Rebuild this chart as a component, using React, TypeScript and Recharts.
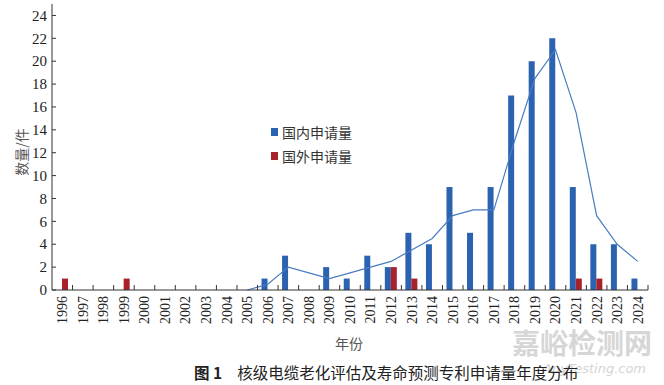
import * as React from 'react'
import { Bar, ComposedChart, Line, XAxis, YAxis } from 'recharts'

const years = [
    '1996', '1997', '1998', '1999', '2000', '2001', '2002', '2003', '2004', '2005',
    '2006', '2007', '2008', '2009', '2010', '2011', '2012', '2013', '2014', '2015',
    '2016', '2017', '2018', '2019', '2020', '2021', '2022', '2023', '2024',
]
const domestic = [
    0, 0, 0, 0, 0, 0, 0, 0, 0, 0,
    1, 3, 0, 2, 1, 3, 2, 5, 4, 9,
    5, 9, 17, 20, 22, 9, 4, 4, 1,
]
const foreign = [
    1, 0, 0, 1, 0, 0, 0, 0, 0, 0,
    0, 0, 0, 0, 0, 0, 2, 1, 0, 0,
    0, 0, 0, 0, 0, 1, 1, 0, 0,
]
// trend line
const trend = [
    null, null, null, null, null, null, null, null, null, 0,
    0.5, 2, 1.5, 1, 1.5, 2, 2.5, 3.5, 4.5, 6.5,
    7, 7, 13, 18.5, 21, 15.5, 6.5, 4, 2.5,
]
const yTicks = [0, 2, 4, 6, 8, 10, 12, 14, 16, 18, 20, 22, 24]

const BLUE = '#2b63b1'
const RED = '#a6232c'
const LINE = '#4a7cc0'
const SERIF = '"Liberation Serif", "DejaVu Serif", serif'
const CJK = '"Noto Sans CJK SC", sans-serif'

const LEFT = 52
const BOTTOM = 290
const BAND = 596 / 29

function XTick({ x, payload }: any) {
    return (
        <g>
            <line x1={x + BAND / 2} x2={x + BAND / 2} y1={BOTTOM} y2={BOTTOM - 5} stroke="#333" strokeWidth={1} />
            <text
                x={x}
                y={BOTTOM + 6}
                transform={`rotate(-90, ${x}, ${BOTTOM + 6})`}
                textAnchor="end"
                dy="0.35em"
                fontSize={14}
                fontFamily={SERIF}
                fill="#222"
            >
                {payload.value}
            </text>
        </g>
    )
}

function YTick({ y, payload }: any) {
    return (
        <g>
            <line x1={LEFT} x2={LEFT + 4} y1={y} y2={y} stroke="#333" strokeWidth={1} />
            <text x={LEFT - 5} y={y} textAnchor="end" dy="0.35em" fontSize={15} fontFamily={SERIF} fill="#222">
                {payload.value}
            </text>
        </g>
    )
}

const legendItems = [
    { label: '国内申请量', color: BLUE },
    { label: '国外申请量', color: RED },
]

export default function App() {
    const data = years.map((year, i) => ({
        year,
        domestic: domestic[i],
        foreign: foreign[i],
        trend: trend[i],
    }))

    return (
        <div style={{ position: 'absolute', left: 0, top: 0, width: 664, height: 385, background: '#fff', overflow: 'hidden' }}>
            <ComposedChart
                width={664}
                height={385}
                data={data}
                margin={{ top: 4, right: 16, bottom: 55, left: LEFT - 20 }}
                barGap={0}
                barCategoryGap={0}
            >
                <XAxis
                    dataKey="year"
                    interval={0}
                    tickLine={false}
                    tick={<XTick />}
                    height={40}
                    stroke="#333"
                />
                <YAxis
                    width={20}
                    domain={[0, 25]}
                    ticks={yTicks}
                    interval={0}
                    tickLine={false}
                    tick={<YTick />}
                    stroke="#333"
                />
                <Bar dataKey="domestic" fill={BLUE} barSize={6} isAnimationActive={false} />
                <Bar dataKey="foreign" fill={RED} barSize={6} isAnimationActive={false} />
                <Line
                    type="linear"
                    dataKey="trend"
                    stroke={LINE}
                    strokeWidth={1.2}
                    dot={false}
                    isAnimationActive={false}
                />
            </ComposedChart>
            <div style={{ position: 'absolute', left: 271, top: 120 }}>
                {legendItems.map((it) => (
                    <div key={it.label} style={{ display: 'flex', alignItems: 'center', height: 24 }}>
                        <span style={{ width: 7, height: 8, background: it.color, marginRight: 4 }} />
                        <span style={{ fontFamily: CJK, fontSize: 14, color: '#333' }}>{it.label}</span>
                    </div>
                ))}
            </div>
            <div
                style={{
                    position: 'absolute',
                    left: 21,
                    top: 152,
                    transform: 'translate(-50%, -50%) rotate(-90deg)',
                    fontFamily: CJK,
                    fontSize: 14,
                    color: '#555',
                    whiteSpace: 'nowrap',
                }}
            >
                数量/件
            </div>
            <div style={{ position: 'absolute', left: 335, top: 333, fontFamily: CJK, fontSize: 14, color: '#555' }}>
                年份
            </div>
            <div
                style={{
                    position: 'absolute',
                    left: 512,
                    top: 328,
                    fontFamily: CJK,
                    fontSize: 28,
                    lineHeight: '28px',
                    fontWeight: 700,
                    color: '#d6d6d6',
                    whiteSpace: 'nowrap',
                }}
            >
                嘉峪检测网
            </div>
            <div
                style={{
                    position: 'absolute',
                    left: 543,
                    top: 362,
                    fontFamily: '"DejaVu Sans", sans-serif',
                    fontSize: 13,
                    lineHeight: '13px',
                    fontStyle: 'italic',
                    color: '#d4d4d4',
                    whiteSpace: 'nowrap',
                }}
            >
                AnyTesting.com
            </div>
            <div
                style={{
                    position: 'absolute',
                    left: 194,
                    top: 364,
                    fontFamily: CJK,
                    fontSize: 15.5,
                    lineHeight: '16px',
                    color: '#222',
                    whiteSpace: 'nowrap',
                }}
            >
                <span style={{ fontWeight: 700, marginRight: 15 }}>图 1</span>
                核级电缆老化评估及寿命预测专利申请量年度分布
            </div>
        </div>
    )
}
